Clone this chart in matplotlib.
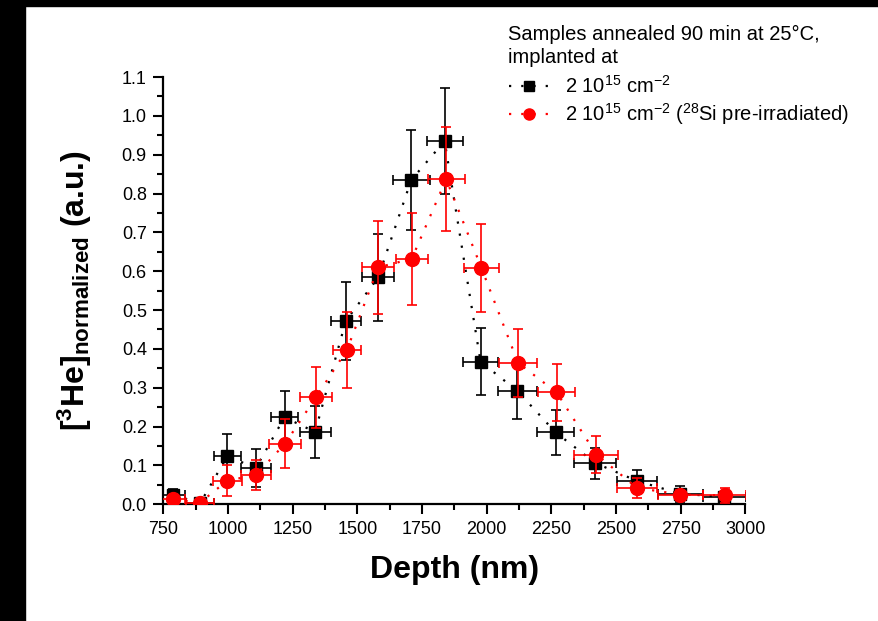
import matplotlib
matplotlib.use("Agg")
import matplotlib.pyplot as plt
from matplotlib.lines import Line2D
from matplotlib.patches import Rectangle
from matplotlib.ticker import MultipleLocator, FormatStrFormatter

plt.rcParams['font.family'] = ['Liberation Sans', 'DejaVu Sans']
plt.rcParams['mathtext.default'] = 'regular'

# 2e15 cm-2 (black squares)
depth_black = [788, 891, 997, 1107, 1218, 1336, 1455, 1580, 1708, 1837, 1976, 2118, 2266, 2420, 2581, 2749, 2919]
he_black = [0.025, 0.002, 0.124, 0.093, 0.224, 0.186, 0.472, 0.584, 0.835, 0.935, 0.367, 0.292, 0.185, 0.106, 0.060, 0.027, 0.019]
yerr_black = [0.014, 0.003, 0.057, 0.048, 0.068, 0.068, 0.100, 0.112, 0.129, 0.136, 0.086, 0.073, 0.057, 0.040, 0.027, 0.020, 0.010]
xerr_black = [45, 55, 52, 58, 52, 60, 58, 62, 72, 70, 68, 76, 72, 81, 78, 86, 82]

# 2e15 cm-2, 28Si pre-irradiated (red circles)
depth_red = [788, 891, 997, 1107, 1220, 1339, 1459, 1581, 1710, 1843, 1979, 2121, 2270, 2424, 2581, 2749, 2920]
he_red = [0.013, 0.004, 0.061, 0.075, 0.156, 0.275, 0.397, 0.610, 0.632, 0.837, 0.609, 0.364, 0.288, 0.128, 0.042, 0.025, 0.023]
yerr_red = [0.010, 0.004, 0.040, 0.038, 0.063, 0.078, 0.097, 0.120, 0.118, 0.133, 0.113, 0.087, 0.073, 0.048, 0.026, 0.012, 0.019]
xerr_red = [45, 55, 55, 58, 62, 62, 55, 62, 62, 72, 68, 74, 72, 85, 78, 86, 82]

label_black = r"2 10$^{15}$ cm$^{-2}$"
label_red = r"2 10$^{15}$ cm$^{-2}$ ($^{28}$Si pre-irradiated)"

dots = (0, (1, 4.5))

fig = plt.figure(figsize=(8.79, 6.21), dpi=100)
ax = fig.add_axes([0.186, 0.188, 0.662, 0.688])

# black series
ax.plot(depth_black, he_black, ls=dots, color='black', lw=1.6, zorder=2)
ax.errorbar(depth_black, he_black, xerr=xerr_black, yerr=yerr_black, fmt='s',
            color='black', ms=8.5, elinewidth=1.2, capsize=3.5, capthick=1.2, zorder=3)

# red series
ax.plot(depth_red, he_red, ls=dots, color='red', lw=1.6, zorder=4)
ax.errorbar(depth_red, he_red, xerr=xerr_red, yerr=yerr_red, fmt='o',
            color='red', ms=10, elinewidth=1.2, capsize=3.5, capthick=1.2, zorder=5)

ax.set_xlim(750, 3000)
ax.set_ylim(0, 1.1)
ax.xaxis.set_major_locator(MultipleLocator(250))
ax.xaxis.set_minor_locator(MultipleLocator(125))
ax.yaxis.set_major_locator(MultipleLocator(0.1))
ax.yaxis.set_minor_locator(MultipleLocator(0.05))
ax.yaxis.set_major_formatter(FormatStrFormatter('%.1f'))

for s in ['top', 'right']:
    ax.spines[s].set_visible(False)
for s in ['left', 'bottom']:
    ax.spines[s].set_linewidth(1.6)
ax.tick_params(which='major', direction='out', length=7, width=1.5, labelsize=13, pad=5)
ax.tick_params(which='minor', direction='out', length=4, width=1.5)

ax.set_xlabel("Depth (nm)", fontsize=23, fontweight='bold', labelpad=12)
ax.set_ylabel(r"[$^{3}$He]$_{normalized}$ (a.u.)", fontsize=23, fontweight='bold', labelpad=20)

# legend header and entries
fig.text(508 / 879, 1 - 25 / 621, "Samples annealed 90 min at 25°C,\nimplanted at",
         fontsize=14.5, va='top', ha='left', linespacing=1.25)
handles = [
    Line2D([], [], ls=dots, color='black', lw=1.6, marker='s', ms=7),
    Line2D([], [], ls=dots, color='red', lw=1.6, marker='o', ms=8),
]
fig.legend(handles, [label_black, label_red], fontsize=14.5, frameon=False,
           loc='upper left', bbox_to_anchor=(509 / 879, 1 - 75 / 621),
           borderaxespad=0, borderpad=0, numpoints=1,
           handlelength=2.0, handletextpad=0.8, labelspacing=0.2)

# black frame strips of the original screenshot
fig.patches.append(Rectangle((0, 1 - 6 / 621), 1, 6 / 621, transform=fig.transFigure,
                             color='black', zorder=10))
fig.patches.append(Rectangle((0, 0), 25 / 879, 1, transform=fig.transFigure,
                             color='black', zorder=10))

fig.savefig("out.png", dpi=100)
